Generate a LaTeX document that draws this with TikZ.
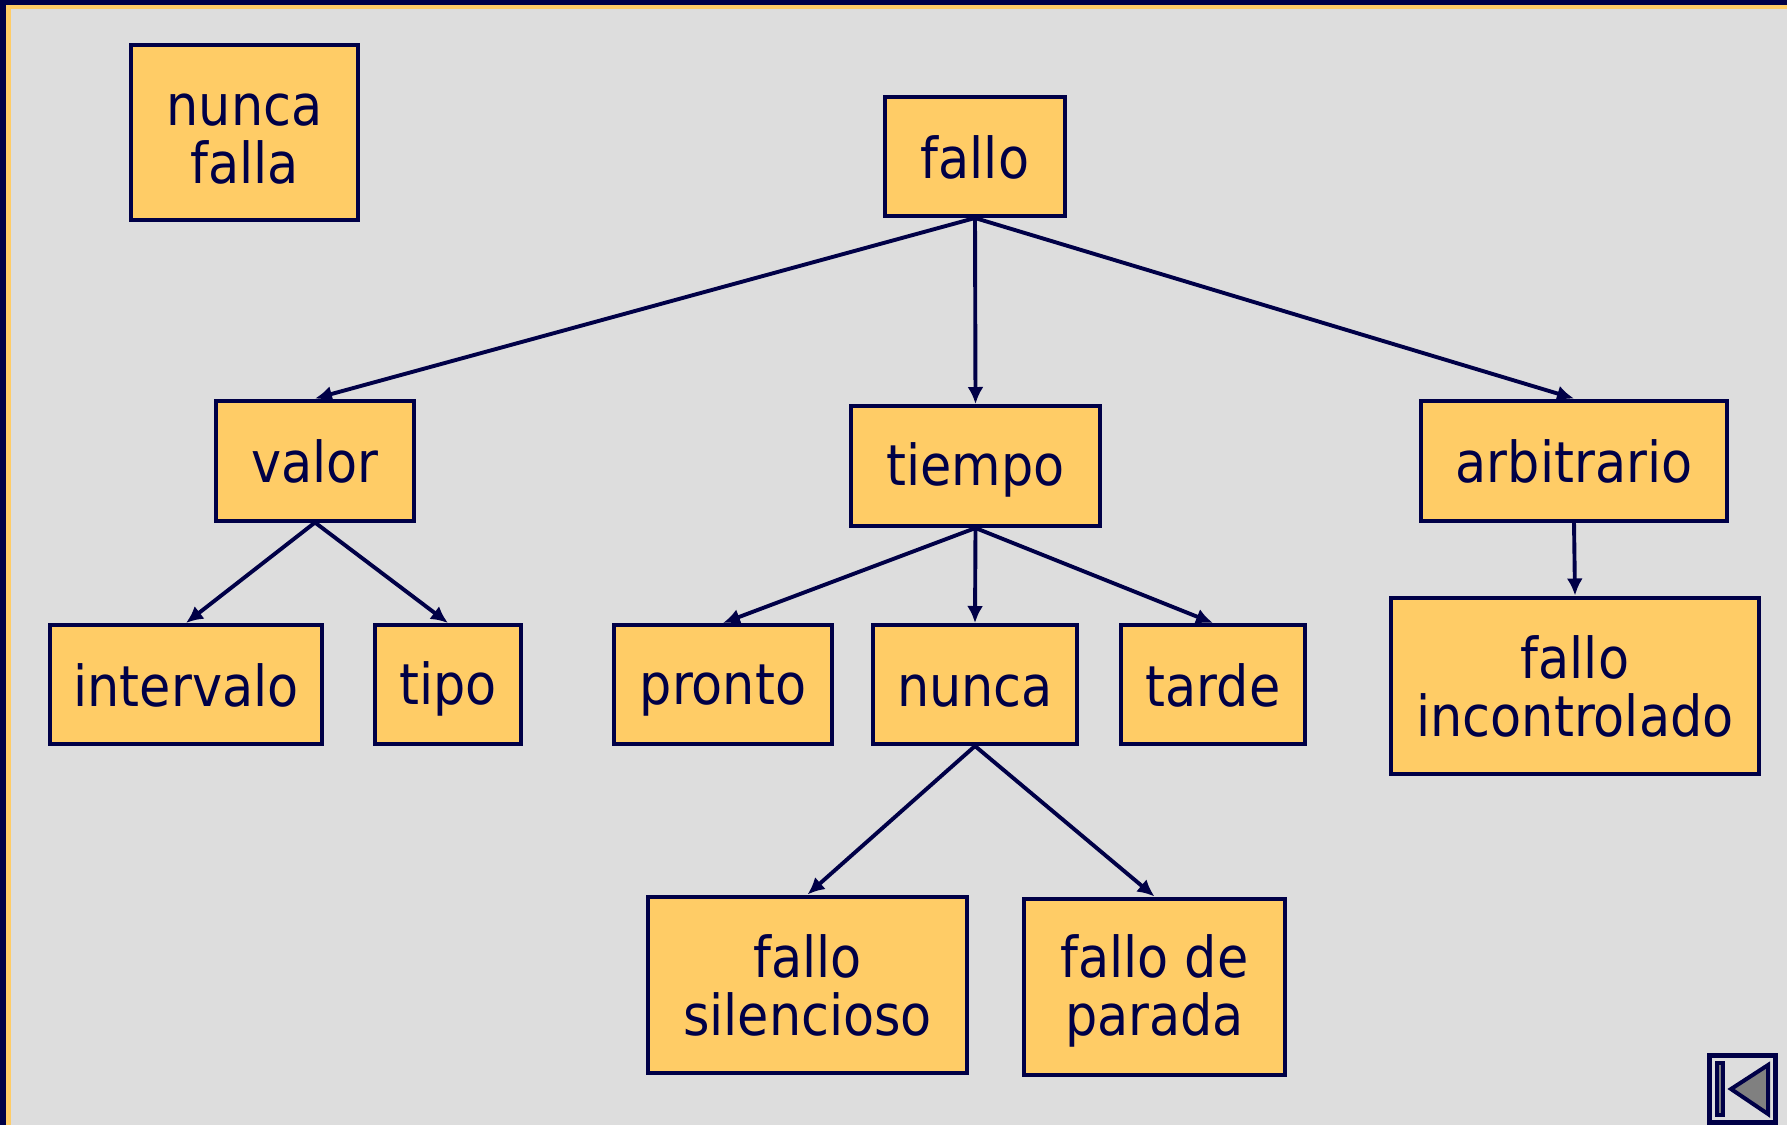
\documentclass[tikz,border=0pt]{standalone}
\usepackage{fontspec}
\setmainfont{DejaVu Sans Condensed}
\usetikzlibrary{arrows.meta}
\definecolor{navy}{HTML}{000047}
\definecolor{boxfill}{HTML}{FFCC66}
\definecolor{bg}{HTML}{DDDDDD}
\newcommand{\ls}{\rule[-7pt]{0pt}{58pt}}
\tikzset{
  x=1pt,y=-1pt,
  box/.style={draw=navy,fill=boxfill,line width=4pt,inner sep=0pt,align=center,text=navy,
    font=\fontsize{56.5}{58}\selectfont},
  link/.style={draw=navy,line width=3.9pt,-{Latex[length=17pt,width=16pt]}}
}
\begin{document}
\begin{tikzpicture}
\useasboundingbox (0,0) rectangle (1787,1125);
\fill[bg] (0,0) rectangle (1787,1125);
\fill[boxfill] (0,0) rectangle (11,1125);
\fill[boxfill] (0,0) rectangle (1787,9);
\fill[navy] (0,0) rectangle (6,1125);
\fill[navy] (0,0) rectangle (1787,5);
\node[box,minimum width=227pt,minimum height=175pt] (nf) at (244.5,132) {\ls nunca\\\ls falla};
\node[box,minimum width=180pt,minimum height=119pt] (fallo) at (975,156.5) {\ls fallo};
\node[box,minimum width=198pt,minimum height=120pt] (valor) at (315,460.5) {\ls valor};
\node[box,minimum width=249pt,minimum height=120pt] (tiempo) at (975.5,466) {\ls tiempo};
\node[box,minimum width=306pt,minimum height=120pt] (arb) at (1574,460.5) {\ls arbitrario};
\node[box,minimum width=272pt,minimum height=119pt] (interv) at (186,684.5) {\ls intervalo};
\node[box,minimum width=146pt,minimum height=119pt] (tipo) at (448,684.5) {\ls tipo};
\node[box,minimum width=218pt,minimum height=119pt] (pronto) at (723,684.5) {\ls pronto};
\node[box,minimum width=204pt,minimum height=119pt] (nunca) at (975,684.5) {\ls nunca};
\node[box,minimum width=184pt,minimum height=119pt] (tarde) at (1213,684.5) {\ls tarde};
\node[box,minimum width=368pt,minimum height=176pt] (fi) at (1575,685.5) {\ls fallo\\\ls incontrolado};
\node[box,minimum width=319pt,minimum height=176pt] (fs) at (807.5,984.5) {\ls fallo\\\ls silencioso};
\node[box,minimum width=261pt,minimum height=176pt] (fp) at (1154.5,986.5) {\ls fallo de\\\ls parada};
\draw[link] (fallo.south) -- (valor.north);
\draw[link] (fallo.south) -- (tiempo.north);
\draw[link] (fallo.south) -- (arb.north);
\draw[link] (valor.south) -- (interv.north);
\draw[link] (valor.south) -- (tipo.north);
\draw[link] (tiempo.south) -- (pronto.north);
\draw[link] (tiempo.south) -- (nunca.north);
\draw[link] (tiempo.south) -- (tarde.north);
\draw[link] (arb.south) -- (fi.north);
\draw[link] (nunca.south) -- (fs.north);
\draw[link] (nunca.south) -- (fp.north);
% back-button icon
\draw[navy,line width=5pt,fill=bg] (1709.5,1055.5) rectangle (1775.5,1122);
\draw[navy,line width=3.5pt,fill=gray] (1717,1063) rectangle (1723,1115);
\draw[navy,line width=4pt,fill=gray,line join=miter] (1768,1065) -- (1731,1089) -- (1768,1114) -- cycle;
\end{tikzpicture}
\end{document}
